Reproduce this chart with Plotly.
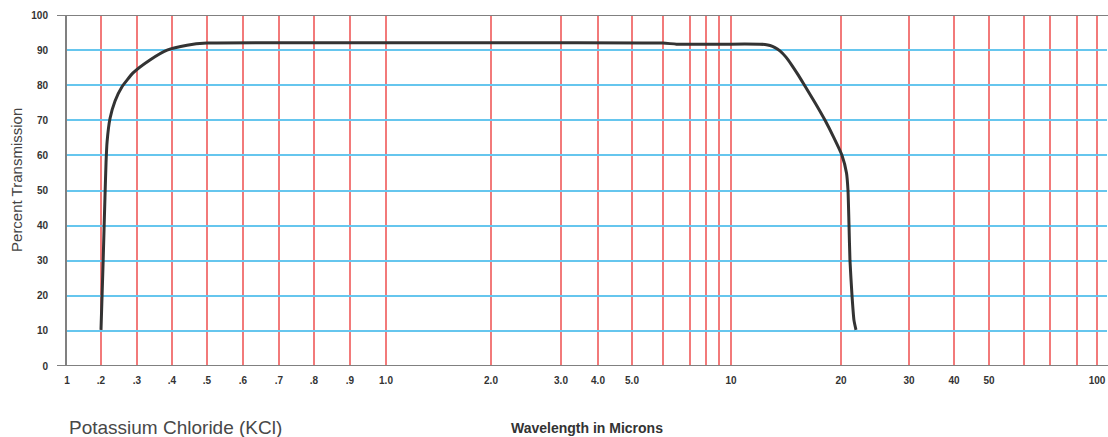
import numpy as np
import plotly.graph_objects as go

# Axis scale (hand-drawn chart: wavelength -> horizontal position units)
tick_w = [0.1, 0.2, 0.3, 0.4, 0.5, 0.6, 0.7, 0.8, 0.9, 1.0,
          2, 3, 4, 5, 6, 7, 8, 9, 10,
          20, 30, 40, 50, 60, 70, 80, 100]
tick_pos = [67, 101, 137, 172, 207, 243, 279, 314, 350, 386,
            491, 561, 598, 632, 663, 690, 706, 719, 731,
            841, 909, 954, 989, 1024, 1050, 1077, 1097]
tick_text = ["1", ".2", ".3", ".4", ".5", ".6", ".7", ".8", ".9", "1.0",
             "2.0", "3.0", "4.0", "5.0", "", "", "", "", "10",
             "20", "30", "40", "50", "", "", "", "100"]

y_ticks = [0, 10, 20, 30, 40, 50, 60, 70, 80, 90, 100]

# Transmission curve for KCl
wavelength = [0.2, 0.206, 0.211, 0.214, 0.217, 0.225, 0.239, 0.258, 0.289, 0.337,
              0.386, 0.443, 0.5, 0.7, 1.0, 3.0, 6.0, 6.5, 10.0, 12.6,
              13.09, 13.55, 14.0, 14.45, 15.0, 15.55, 16.09, 16.64, 17.64, 18.55,
              19.36, 20.15, 20.81, 21.03, 21.18, 21.32, 21.62, 21.91, 22.2]
transmission = [10.3, 30, 48, 58, 64, 70.5, 75.5, 79.5, 83.5, 87.2,
                90.0, 91.4, 92.0, 92.1, 92.1, 92.1, 92.0, 91.7, 91.7, 91.7,
                91.6, 91.3, 90.7, 89.8, 88.0, 85.6, 83.0, 80.2, 75.0, 70.0,
                65.0, 60.0, 55.0, 50.0, 40.0, 30.0, 20.0, 13.0, 10.3]


def wl_to_pos(w):
    return np.interp(np.asarray(w, dtype=float), tick_w, tick_pos)


x_min, x_max = 67, 1107

fig = go.Figure()
fig.add_trace(go.Scatter(
    x=wl_to_pos(wavelength), y=transmission, mode="lines",
    line=dict(color="#333333", width=3, shape="spline", smoothing=0.5),
    hoverinfo="skip", showlegend=False))

tickfont = dict(family="Liberation Sans, Arial, sans-serif", size=10,
                color="#333333", weight="bold")

fig.update_layout(
    width=1108, height=437,
    margin=dict(l=67, r=1, t=15, b=71),
    paper_bgcolor="white", plot_bgcolor="white",
    xaxis=dict(range=[x_min, x_max], tickmode="array",
               tickvals=wl_to_pos(tick_w), ticktext=tick_text,
               showgrid=True, gridcolor="#f27a7a", gridwidth=1.5,
               zeroline=False, showline=False, ticks="",
               tickfont=tickfont, ticklabelstandoff=7, fixedrange=True),
    yaxis=dict(range=[0, 100], tickmode="array", tickvals=y_ticks,
               showgrid=True, gridcolor="#66c6ee", gridwidth=1.5,
               zeroline=False, showline=True, linecolor="#808080", linewidth=2,
               ticks="", tickfont=tickfont, ticklabelstandoff=15,
               fixedrange=True),
    font=dict(family="Liberation Sans, Arial, sans-serif"),
)

# gray horizontal lines at 0 and 100 extending left of axis
for yv in (0, 100):
    fig.add_shape(type="line", xref="paper", yref="y",
                  x0=-10 / 1040, x1=1.001, y0=yv, y1=yv,
                  line=dict(color="#808080", width=2), layer="above")

fig.add_annotation(text="Percent Transmission", xref="paper", yref="paper",
                   x=-50 / 1040, y=0.53, textangle=-90, showarrow=False,
                   font=dict(size=15, color="#444444"),
                   xanchor="center", yanchor="middle")
fig.add_annotation(text="Potassium Chloride (KCl)", xref="paper", yref="paper",
                   x=0, y=-61 / 351, showarrow=False,
                   font=dict(size=19, color="#484848"),
                   xanchor="left", yanchor="middle")
fig.add_annotation(text="Wavelength in Microns", xref="paper", yref="paper",
                   x=(587 - 67) / 1040, y=-62 / 351, showarrow=False,
                   font=dict(size=14, color="#333333", weight="bold"),
                   xanchor="center", yanchor="middle")

fig.write_html("out.html", config={"displayModeBar": False},
               post_script="document.body.style.margin='0';"
                           "document.body.style.overflow='hidden';")
